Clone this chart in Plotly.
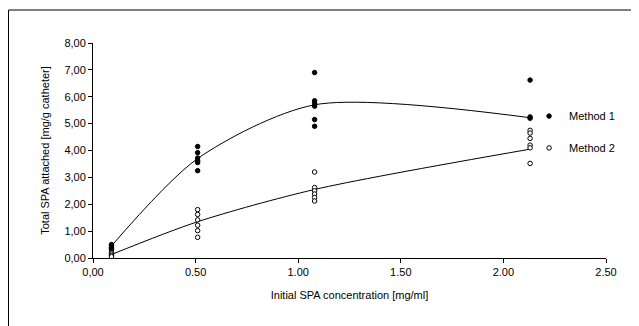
import plotly.graph_objects as go

# Data
concentrations = [0.09, 0.51, 1.08, 2.13]

m1_values = [
    [0.50, 0.45, 0.40, 0.35, 0.30],
    [4.15, 3.92, 3.72, 3.62, 3.55, 3.25],
    [6.90, 5.85, 5.75, 5.65, 5.15, 4.90],
    [6.62, 5.25, 5.20],
]
m2_values = [
    [0.20, 0.15, 0.10, 0.05],
    [1.80, 1.62, 1.42, 1.22, 1.02, 0.77],
    [3.20, 2.62, 2.50, 2.38, 2.25, 2.12],
    [4.75, 4.65, 4.45, 4.20, 4.10, 3.52],
]
m1_curve = [0.45, 3.70, 5.70, 5.22]
m2_curve = [0.13, 1.35, 2.55, 4.05]

y_tickvals = [0, 1, 2, 3, 4, 5, 6, 7, 8]
y_ticktext = ["0,00", "1,00", "2,00", "3,00", "4,00", "5,00", "6,00", "7,00", "8,00"]
x_tickvals = [0, 0.5, 1.0, 1.5, 2.0, 2.5]
x_ticktext = ["0,00", "0.50", "1.00", "1.50", "2.00", "2.50"]


def flatten(groups):
    xs, ys = [], []
    for c, vals in zip(concentrations, groups):
        for v in vals:
            xs.append(c)
            ys.append(v)
    return xs, ys


x1, y1 = flatten(m1_values)
x2, y2 = flatten(m2_values)

FONT = "Liberation Sans, Arial, sans-serif"

# plot area in figure pixels (page body has an 8px margin)
L, R, T, B = 85, 41, 35, 76
PW, PH = 639 - L - R, 326 - T - B

fig = go.Figure()
fig.add_trace(go.Scatter(x=concentrations, y=m1_curve, mode="lines", line=dict(color="black", width=1, shape="spline", smoothing=0.8), showlegend=False, hoverinfo="skip"))
fig.add_trace(go.Scatter(x=concentrations, y=m2_curve, mode="lines", line=dict(color="black", width=1, shape="spline", smoothing=0.8), showlegend=False, hoverinfo="skip"))
fig.add_trace(go.Scatter(x=x1, y=y1, mode="markers", name="Method 1",
                         marker=dict(symbol="circle", size=4.5, color="black", line=dict(color="black", width=1)),
                         legend="legend"))
fig.add_trace(go.Scatter(x=x2, y=y2, mode="markers", name="Method 2",
                         marker=dict(symbol="circle", size=4.5, color="white", line=dict(color="black", width=1)),
                         legend="legend2"))

fig.update_layout(
    width=639, height=326,
    margin=dict(l=L, r=R, t=T, b=B),
    paper_bgcolor="white", plot_bgcolor="white",
    font=dict(family=FONT, size=11, color="black"),
    xaxis=dict(range=[0, 2.5], tickvals=x_tickvals, ticktext=x_ticktext, automargin=False,
               showgrid=False, zeroline=False, showline=True, linecolor="black", linewidth=1,
               ticks="outside", ticklen=4, tickcolor="black", tickfont=dict(size=11),
               title=dict(text="Initial SPA concentration [mg/ml]", font=dict(size=11), standoff=14)),
    yaxis=dict(range=[0, 8], tickvals=y_tickvals, ticktext=y_ticktext, automargin=False,
               showgrid=False, zeroline=False, showline=True, linecolor="black", linewidth=1,
               ticks="outside", ticklen=4, tickcolor="black", tickfont=dict(size=11),
               title=dict(text="Total SPA attached [mg/g catheter]", font=dict(size=11), standoff=12)),
    legend=dict(x=0.85, y=0.66, xanchor="left", yanchor="middle", bgcolor="rgba(0,0,0,0)",
                font=dict(size=11), borderwidth=0),
    legend2=dict(x=0.85, y=0.512, xanchor="left", yanchor="middle", bgcolor="rgba(0,0,0,0)",
                 font=dict(size=11), borderwidth=0),
    shapes=[dict(type="rect", xref="paper", yref="paper",
                 x0=(0.5 - L) / PW, x1=(660 - L) / PW,
                 y0=(T + PH - 340) / PH, y1=(T + PH - 2) / PH,
                 line=dict(color="black", width=1), fillcolor="rgba(0,0,0,0)", layer="below")],
)

fig.write_html("out.html")
